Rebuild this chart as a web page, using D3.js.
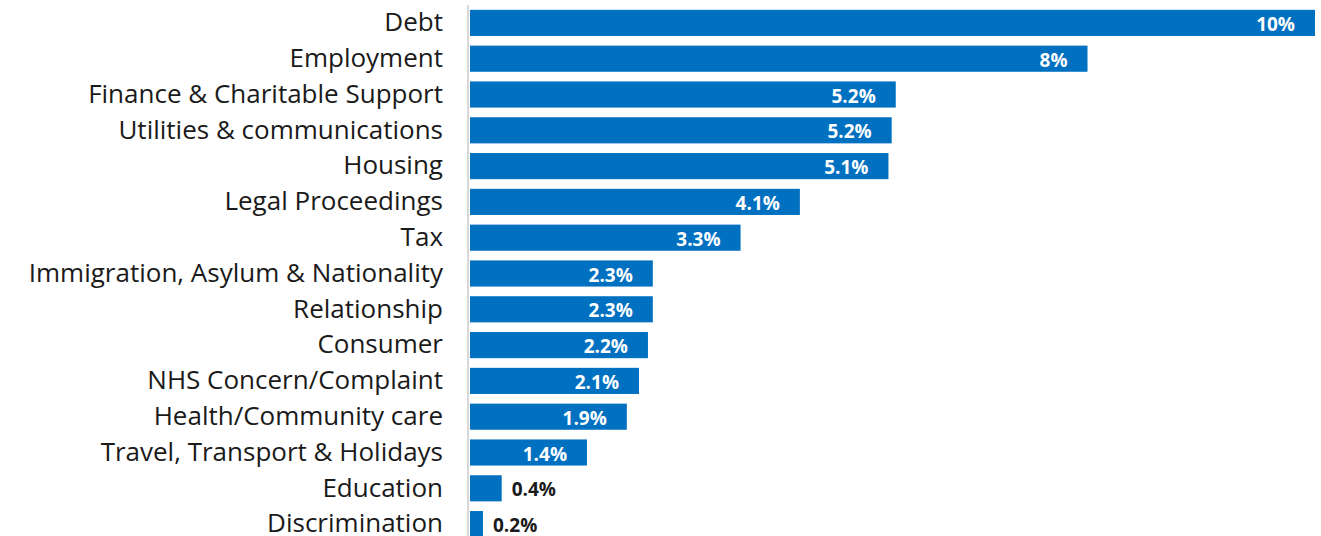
<!DOCTYPE html>
<html>
<head>
<meta charset="utf-8">
<script src="https://cdn.jsdelivr.net/npm/d3@7"></script>
<style>
  body { margin: 0; background: #fff; }
  svg { display: block; }
</style>
</head>
<body>
<svg id="chart"></svg>
<script>
// Set dimensions for the SVG
const width = 1321;
const height = 536;

// Chart data
const categories = [
  "Debt", "Employment", "Finance & Charitable Support", "Utilities & communications",
  "Housing", "Legal Proceedings", "Tax", "Immigration, Asylum & Nationality",
  "Relationship", "Consumer", "NHS Concern/Complaint", "Health/Community care",
  "Travel, Transport & Holidays", "Education", "Discrimination"
];
const shares = [10.4, 7.6, 5.24, 5.19, 5.15, 4.06, 3.33, 2.25, 2.25, 2.19, 2.08, 1.93, 1.44, 0.39, 0.16];
const shareLabels = ["10%", "8%", "5.2%", "5.2%", "5.1%", "4.1%", "3.3%", "2.3%", "2.3%", "2.2%", "2.1%", "1.9%", "1.4%", "0.4%", "0.2%"];

const rows = categories.map((c, i) => ({ name: c, value: shares[i], label: shareLabels[i] }));

const margin = { top: 5, right: 6, bottom: 0, left: 470 };

const svg = d3.select("#chart")
  .attr("width", width)
  .attr("height", height);

const x = d3.scaleLinear()
  .domain([0, 10.4])
  .range([margin.left, 1315]);

const y = d3.scaleBand()
  .domain(categories)
  .range([5, 5 + 15 * 35.8])
  .paddingInner(0.27)
  .paddingOuter(0.135);

// Category axis on the left
const yAxis = svg.append("g")
  .attr("transform", `translate(${margin.left - 2},0)`)
  .call(d3.axisLeft(y).tickSize(0).tickPadding(25));

yAxis.select(".domain")
  .attr("stroke", "#d9d9d9")
  .attr("stroke-width", 2)
  .attr("d", `M0,5V${height}`);

yAxis.selectAll("text")
  .attr("fill", "#1a1a1a")
  .style("font-family", "'Open Sans', sans-serif")
  .style("font-size", "26px");

// Bars
svg.selectAll("rect.bar")
  .data(rows)
  .enter().append("rect")
  .attr("class", "bar")
  .attr("x", x(0))
  .attr("y", d => y(d.name))
  .attr("width", d => x(d.value) - x(0))
  .attr("height", y.bandwidth())
  .attr("fill", "#0070c0");

// Value labels: inside the bar in white, outside in black for the tiny ones
svg.selectAll("text.value")
  .data(rows)
  .enter().append("text")
  .attr("class", "value")
  .attr("x", d => d.value > 1 ? x(d.value) - 20 : x(d.value) + 10)
  .attr("y", d => y(d.name) + y.bandwidth() / 2 + 1)
  .attr("text-anchor", d => d.value > 1 ? "end" : "start")
  .attr("dominant-baseline", "central")
  .attr("fill", d => d.value > 1 ? "#fff" : "#1a1a1a")
  .style("font-family", "'Open Sans', sans-serif")
  .style("font-weight", "bold")
  .style("font-size", "19px")
  .text(d => d.label);
</script>
</body>
</html>
